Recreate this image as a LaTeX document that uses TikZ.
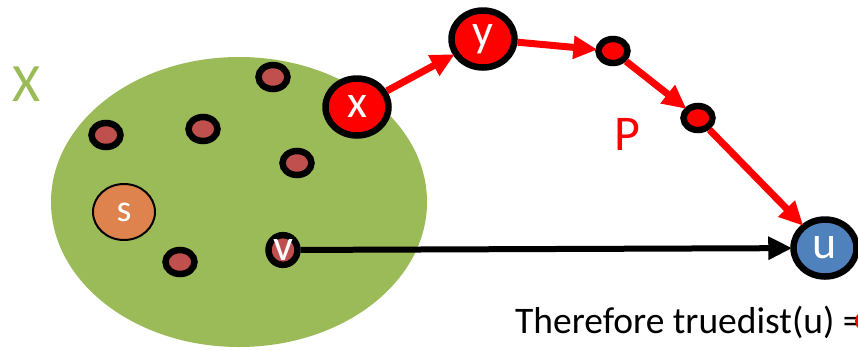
\documentclass[tikz,border=0pt]{standalone}
\usepackage{fontspec}
\setmainfont{Carlito}
\usetikzlibrary{arrows.meta,shapes.geometric}
\definecolor{setgreen}{RGB}{155,187,89}
\definecolor{dotred}{RGB}{192,80,77}
\definecolor{sorange}{RGB}{222,131,77}
\definecolor{ublue}{RGB}{79,129,189}

\begin{document}
\begin{tikzpicture}[x=1pt,y=-1pt,
    vtx/.style={ellipse,draw=black,line width=6.5pt,inner sep=0pt,text=white},
    dot/.style={vtx,fill=dotred,minimum width=29pt,minimum height=24pt},
    big/.style={vtx,minimum width=63pt,minimum height=57pt,font=\fontsize{46}{46}\selectfont},
    patharr/.style={red,line width=7pt,-{Triangle[length=24pt,width=22pt]},shorten >=-2pt},
  ]
  \useasboundingbox (0,0) rectangle (858,349);
  \clip (0,0) rectangle (858,349);
  % the set X
  \fill[setgreen] (239,202) ellipse [x radius=188, y radius=145];
  \node[text=setgreen,font=\fontsize{54}{54}\selectfont] (setX) at (27,84) {X};
  % vertices inside X
  \node[dot] (d1) at (273,77) {};
  \node[dot] (d2) at (106,135) {};
  \node[dot] (d3) at (203,129) {};
  \node[dot] (d4) at (297,163) {};
  \node[dot] (d5) at (180,262) {};
  \node[dot,font=\fontsize{44}{44}\selectfont] (v) at (283,250) {v};
  \node[ellipse,draw=black,line width=2pt,fill=sorange,text=white,inner sep=0pt,
    minimum width=62pt,minimum height=56pt,font=\fontsize{38}{38}\selectfont] (s) at (124,212) {s};
  % the path P
  \node[big,fill=red] (x) at (357,107) {x};
  \node[big,fill=red] (y) at (483,39) {y};
  \node[dot,fill=red] (p1) at (613,51) {};
  \node[dot,fill=red] (p2) at (698,118) {};
  \node[big,fill=ublue] (u) at (825,248) {u};
  \node[text=red,font=\fontsize{50}{50}\selectfont] (P) at (627,134) {P};
  \draw[patharr] (x) -- (y);
  \draw[patharr] (y) -- (p1);
  \draw[patharr] (p1) -- (p2);
  \draw[patharr] (p2) -- (u);
  \draw[black,line width=6pt,-{Triangle[length=24pt,width=22pt]},shorten >=-2pt] (v) -- (u);
  % conclusion
  \node[anchor=base west,font=\fontsize{37.5}{37.5}\selectfont,inner sep=0pt] (concl) at (515,333) {Therefore truedist(u) =};
  \fill[red] (871,321) ellipse [x radius=16, y radius=12];
\end{tikzpicture}
\end{document}
